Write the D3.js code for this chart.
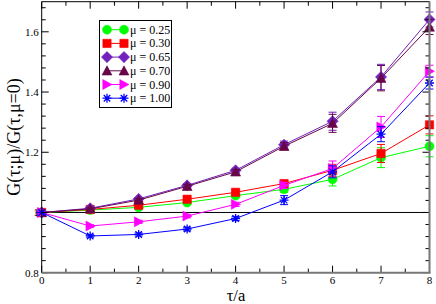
<!DOCTYPE html>
<html><head><meta charset="utf-8">
<script src="https://cdn.jsdelivr.net/npm/d3@7"></script>
<style>body{margin:0;background:#fff}svg{display:block}text{font-family:"Liberation Serif","DejaVu Serif",serif}</style>
</head><body><svg id="c" width="436" height="304"></svg>
<script>
const tau = [0,1,2,3,4,5,6,7,8];
const labels = ["μ = 0.25","μ = 0.30","μ = 0.65","μ = 0.70","μ = 0.90","μ = 1.00"];
const colors = ["#00ff00","#ff0000","#7221bc","#670748","#ff00ff","#0000ff"];
const symbols = ["circle","square","diamond","triangle","triright","star"];
const v025 = [1.0,1.008,1.017,1.033,1.056,1.077,1.110,1.182,1.220];
const v030 = [1.0,1.010,1.024,1.044,1.067,1.096,1.140,1.196,1.291];
const v065 = [1.0,1.014,1.045,1.090,1.140,1.225,1.303,1.450,1.641];
const v070 = [1.0,1.012,1.041,1.087,1.135,1.220,1.296,1.446,1.616];
const v090 = [1.0,0.955,0.969,0.988,1.027,1.090,1.146,1.284,1.469];
const v100 = [1.0,0.922,0.927,0.945,0.980,1.041,1.135,1.260,1.430];
const e025 = [0.003,0.004,0.005,0.006,0.007,0.010,0.022,0.033,0.035];
const e030 = [0.003,0.004,0.005,0.006,0.007,0.010,0.020,0.030,0.030];
const e065 = [0.003,0.004,0.005,0.006,0.007,0.012,0.030,0.042,0.025];
const e070 = [0.003,0.004,0.005,0.006,0.007,0.012,0.030,0.042,0.025];
const e090 = [0.003,0.004,0.005,0.006,0.007,0.010,0.025,0.035,0.020];
const e100 = [0.003,0.004,0.005,0.006,0.007,0.015,0.020,0.025,0.020];
const values = [v025,v030,v065,v070,v090,v100];
const errors = [e025,e030,e065,e070,e090,e100];
const xTicks = [0,1,2,3,4,5,6,7,8];
const yTicks = [0.8,1.0,1.2,1.4,1.6];
const yTickLabels = ["0.8","1","1.2","1.4","1.6"];

const svg = d3.select("#c");
const L=41.7, R=429.5, T=1.7, B=272.7;
const x = d3.scaleLinear().domain([0,8]).range([L,R]);
const y = d3.scaleLinear().domain([0.8,1.7]).range([B,T]);

function symPath(type, s){
  if(type==="circle") return d3.symbol(d3.symbolCircle, s*s*0.78)();
  if(type==="square") return d3.symbol(d3.symbolSquare, s*s*0.85)();
  if(type==="diamond"){const h=s*0.62;return `M0,${-h}L${h},0L0,${h}L${-h},0Z`;}
  if(type==="triangle"){const h=s*0.55;return `M0,${-h}L${h},${h*0.85}L${-h},${h*0.85}Z`;}
  if(type==="triright"){const h=s*0.55;return `M${h},0L${-h*0.85},${-h}L${-h*0.85},${h}Z`;}
  if(type==="star"){const h=s*0.5,d=h*0.72;return `M${-h},0L${h},0M0,${-h}L0,${h}M${-d},${-d}L${d},${d}M${-d},${d}L${d},${-d}`;}
}
function drawSym(g,type,cx,cy,col,s){
  const p=g.append("path").attr("d",symPath(type,s)).attr("transform",`translate(${cx},${cy})`);
  if(type==="star") p.attr("fill","none").attr("stroke",col).attr("stroke-width",1.3);
  else p.attr("fill",col).attr("stroke",col).attr("stroke-width",0.6);
}

svg.append("line").attr("x1",x(0)).attr("x2",x(8)).attr("y1",y(1)).attr("y2",y(1)).attr("stroke","#000").attr("stroke-width",1);

const gS = svg.append("g");
values.forEach((vals,i)=>{
  const col=colors[i];
  const line=d3.line().x((d,j)=>x(tau[j])).y(d=>y(d));
  gS.append("path").attr("d",line(vals)).attr("fill","none").attr("stroke",col).attr("stroke-width",1);
  vals.forEach((v,j)=>{
    const e=errors[i][j], cx=x(tau[j]);
    if(y(v-e)-y(v+e)>2){
      gS.append("path").attr("d",`M${cx},${y(v+e)}V${y(v-e)}M${cx-4},${y(v+e)}H${cx+4}M${cx-4},${y(v-e)}H${cx+4}`)
        .attr("stroke",col).attr("stroke-width",1).attr("fill","none");
    }
  });
  vals.forEach((v,j)=>drawSym(gS,symbols[i],x(tau[j]),y(v),col,9));
});

const gA = svg.append("g");
const minorX = d3.range(0,8.01,0.5);
const minorY = d3.range(0.8,1.7001,0.04);
minorX.forEach(t=>{
  const major = Math.abs(t-Math.round(t))<1e-6;
  const len = major?7:4;
  gA.append("line").attr("x1",x(t)).attr("x2",x(t)).attr("y1",B).attr("y2",B-len).attr("stroke","#000");
  gA.append("line").attr("x1",x(t)).attr("x2",x(t)).attr("y1",T).attr("y2",T+len).attr("stroke","#000");
});
minorY.forEach(t=>{
  const major = yTicks.some(m=>Math.abs(m-t)<1e-6);
  const len = major?7:4;
  gA.append("line").attr("x1",L).attr("x2",L+len).attr("y1",y(t)).attr("y2",y(t)).attr("stroke","#000");
  gA.append("line").attr("x1",R).attr("x2",R-len).attr("y1",y(t)).attr("y2",y(t)).attr("stroke","#000");
});
gA.append("line").attr("x1",L).attr("x2",R).attr("y1",T).attr("y2",T).attr("stroke","#000");
gA.append("line").attr("x1",L).attr("x2",L).attr("y1",T).attr("y2",B).attr("stroke","#000");
gA.append("line").attr("x1",L).attr("x2",R+1).attr("y1",B).attr("y2",B).attr("stroke","#777").attr("stroke-width",2);
gA.append("line").attr("x1",R).attr("x2",R).attr("y1",T).attr("y2",B).attr("stroke","#777").attr("stroke-width",2);

xTicks.forEach(t=>{
  gA.append("text").attr("x",x(t)).attr("y",B+11).attr("text-anchor","middle").attr("font-size",11).text(t);
});
yTicks.forEach((t,i)=>{
  gA.append("text").attr("x",L-3).attr("y",y(t)+4).attr("text-anchor","end").attr("font-size",11).text(yTickLabels[i]);
});

svg.append("text").attr("x",236).attr("y",300.5).attr("text-anchor","middle").attr("font-size",16.5).text("τ/a");
svg.append("text").attr("transform","translate(20,137) rotate(-90)").attr("text-anchor","middle").attr("font-size",18).text("G(τ;μ)/G(τ,μ=0)");

const lg = svg.append("g");
lg.append("rect").attr("x",99.5).attr("y",20.5).attr("width",72).attr("height",87).attr("fill","#fff").attr("stroke","#000").attr("stroke-width",1);
labels.forEach((lab,i)=>{
  const yy = 29.7 + i*13.7;
  lg.append("line").attr("x1",107).attr("x2",124).attr("y1",yy).attr("y2",yy).attr("stroke",colors[i]).attr("stroke-width",1);
  drawSym(lg,symbols[i],107,yy,colors[i],9);
  drawSym(lg,symbols[i],124,yy,colors[i],9);
  lg.append("text").attr("x",130).attr("y",yy+4).attr("font-size",12).text(lab);
});
</script></body></html>
